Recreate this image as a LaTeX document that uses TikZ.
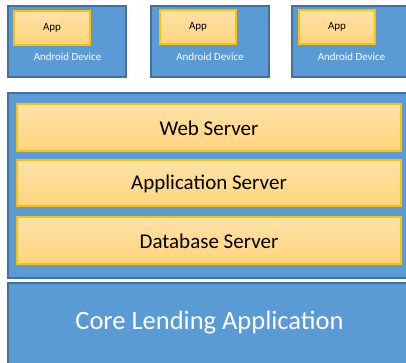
\documentclass[tikz,border=0pt]{standalone}
\usepackage{fontspec}
\setmainfont{Carlito}
\definecolor{bluefill}{HTML}{5B9BD5}
\definecolor{blueline}{HTML}{41719C}
\definecolor{apptop}{HTML}{FFE2A8}
\definecolor{appbot}{HTML}{FFD47C}
\definecolor{appline}{HTML}{FFC000}
\tikzset{
  bluebox/.style={fill=bluefill, draw=blueline, line width=1.6pt},
  appbox/.style={top color=apptop, bottom color=appbot, draw=appline, line width=1.2pt},
  devlabel/.style={text=white, font=\fontsize{10.9}{12}\selectfont, anchor=center, inner sep=0pt},
  applabel/.style={text=black, font=\fontsize{11}{12}\selectfont, anchor=center, inner sep=0pt},
  srvlabel/.style={text=black, font=\fontsize{21}{24}\selectfont, anchor=center, inner sep=0pt},
  corelabel/.style={text=white, font=\fontsize{26.5}{30}\selectfont, anchor=center, inner sep=0pt}
}
\begin{document}
\begin{tikzpicture}[x=1pt, y=-1pt]
\useasboundingbox (0,0) rectangle (406,362);
\clip (0,0) rectangle (406,362);
% devices
\draw[bluebox] (8,6) rectangle (126,77);
\draw[bluebox] (151,6) rectangle (269,77);
\draw[bluebox] (292,6) rectangle (411,77);
\draw[appbox] (14,11) rectangle (90,45);
\draw[appbox] (160,10) rectangle (236,44);
\draw[appbox] (299,10) rectangle (375,44);
\node[applabel] (a1) at (52,28) {App};
\node[applabel] (a2) at (198,27) {App};
\node[applabel] (a3) at (337,27) {App};
\node[devlabel] (d1) at (67.5,57) {Android Device};
\node[devlabel] (d2) at (210,57) {Android Device};
\node[devlabel] (d3) at (351.5,57) {Android Device};
% server container
\draw[bluebox] (8,93) rectangle (410,278);
\draw[appbox] (17,104) rectangle (401,151);
\draw[appbox] (17,160) rectangle (401,206);
\draw[appbox] (17,217) rectangle (401,264);
\node[srvlabel] (web) at (209,128) {Web Server};
\node[srvlabel] (app) at (209,184) {Application Server};
\node[srvlabel] (db) at (209,241) {Database Server};
% core
\draw[bluebox] (8,283) rectangle (410,370);
\node[corelabel] (core) at (209.5,323) {Core Lending Application};
\end{tikzpicture}
\end{document}
